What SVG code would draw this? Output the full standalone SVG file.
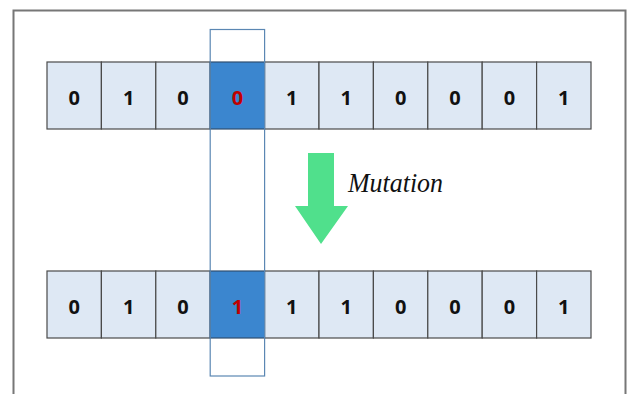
<svg xmlns="http://www.w3.org/2000/svg" width="630" height="394" viewBox="0 0 630 394">
<style>
.cell{fill:#dee8f4;stroke:#4a4a4a;stroke-width:1.2}
.hl{fill:#3b86cf;stroke:#2f4f70;stroke-width:1.2}
.d{font-family:"Open Sans","Liberation Sans",sans-serif;font-weight:bold;font-size:20px;fill:#111;text-anchor:middle}
.r{fill:#c00000}
</style>
<rect x="0" y="0" width="630" height="394" fill="#ffffff"/>
<path d="M13.5,400 V10.5 H625.5 V400" fill="none" stroke="#777" stroke-width="2"/>
<g id="top-row">
<rect class="cell" x="47" y="62" width="54.4" height="67"/>
<rect class="cell" x="101.4" y="62" width="54.4" height="67"/>
<rect class="cell" x="155.8" y="62" width="54.4" height="67"/>
<rect class="hl" x="210.2" y="62" width="54.4" height="67"/>
<rect class="cell" x="264.6" y="62" width="54.4" height="67"/>
<rect class="cell" x="319" y="62" width="54.4" height="67"/>
<rect class="cell" x="373.4" y="62" width="54.4" height="67"/>
<rect class="cell" x="427.8" y="62" width="54.4" height="67"/>
<rect class="cell" x="482.2" y="62" width="54.4" height="67"/>
<rect class="cell" x="536.6" y="62" width="54.4" height="67"/>
<text class="d" x="74.2" y="104.5">0</text>
<text class="d" x="128.6" y="104.5">1</text>
<text class="d" x="183" y="104.5">0</text>
<text class="d r" x="237.4" y="104.5">0</text>
<text class="d" x="291.8" y="104.5">1</text>
<text class="d" x="346.2" y="104.5">1</text>
<text class="d" x="400.6" y="104.5">0</text>
<text class="d" x="455" y="104.5">0</text>
<text class="d" x="509.4" y="104.5">0</text>
<text class="d" x="563.8" y="104.5">1</text>
</g>
<g id="bottom-row">
<rect class="cell" x="47" y="271" width="54.4" height="67"/>
<rect class="cell" x="101.4" y="271" width="54.4" height="67"/>
<rect class="cell" x="155.8" y="271" width="54.4" height="67"/>
<rect class="hl" x="210.2" y="271" width="54.4" height="67"/>
<rect class="cell" x="264.6" y="271" width="54.4" height="67"/>
<rect class="cell" x="319" y="271" width="54.4" height="67"/>
<rect class="cell" x="373.4" y="271" width="54.4" height="67"/>
<rect class="cell" x="427.8" y="271" width="54.4" height="67"/>
<rect class="cell" x="482.2" y="271" width="54.4" height="67"/>
<rect class="cell" x="536.6" y="271" width="54.4" height="67"/>
<text class="d" x="74.2" y="313.5">0</text>
<text class="d" x="128.6" y="313.5">1</text>
<text class="d" x="183" y="313.5">0</text>
<text class="d r" x="237.4" y="313.5">1</text>
<text class="d" x="291.8" y="313.5">1</text>
<text class="d" x="346.2" y="313.5">1</text>
<text class="d" x="400.6" y="313.5">0</text>
<text class="d" x="455" y="313.5">0</text>
<text class="d" x="509.4" y="313.5">0</text>
<text class="d" x="563.8" y="313.5">1</text>
</g>
<g id="highlight-column">
<rect x="210.2" y="29.5" width="54.4" height="346.5" fill="none" stroke="#5b87b3" stroke-width="1.2"/>
</g>
<g id="mutation-arrow">
<polygon points="308,153 334,153 334,206 348,206 321,244 295,206 308,206" fill="#50e08c"/>
<text x="348" y="192" font-family="'Liberation Serif','Times New Roman',serif" font-style="italic" font-size="27" textLength="95" lengthAdjust="spacingAndGlyphs" fill="#111">Mutation</text>
</g>
</svg>
